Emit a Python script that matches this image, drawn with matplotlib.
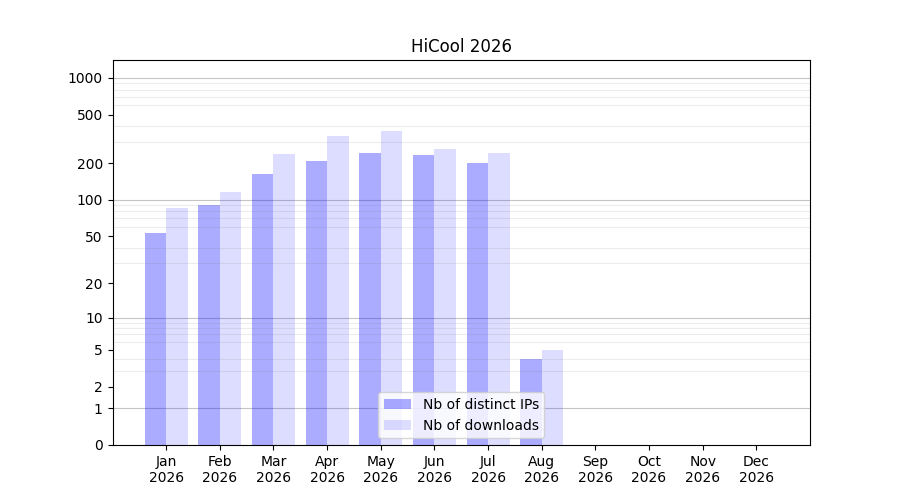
import numpy as np
import matplotlib
matplotlib.use("Agg")
import matplotlib.pyplot as plt
from matplotlib.ticker import FixedLocator, FixedFormatter, NullFormatter

# monthly stats for 2026
months = ['Jan', 'Feb', 'Mar', 'Apr', 'May', 'Jun', 'Jul', 'Aug', 'Sep', 'Oct', 'Nov', 'Dec']
year = 2026
distinct_ips = [53, 91, 164, 209, 243, 234, 201, 4, 0, 0, 0, 0]
downloads = [86, 116, 239, 335, 368, 262, 243, 5, 0, 0, 0, 0]

major_ticks = [0, 1, 2, 5, 10, 20, 50, 100, 200, 500, 1000]
decades = [1, 10, 100, 1000]
minor_ticks = [m * d for d in [1, 10, 100] for m in range(2, 10)]

x = np.arange(1, len(months) + 1)
width = 0.4

fig, ax = plt.subplots(figsize=(9, 5), dpi=100)

ax.set_yscale('function', functions=(lambda v: np.log10(1 + np.clip(v, 0, None)),
                                     lambda v: 10 ** v - 1))

ax.bar(x - width / 2, distinct_ips, width, color='blue', alpha=0.33, label='Nb of distinct IPs')
ax.bar(x + width / 2, downloads, width, color='blue', alpha=0.133, label='Nb of downloads')

ax.yaxis.set_major_locator(FixedLocator(major_ticks))
ax.yaxis.set_major_formatter(FixedFormatter([str(t) for t in major_ticks]))
ax.yaxis.set_minor_locator(FixedLocator(minor_ticks))
ax.yaxis.set_minor_formatter(NullFormatter())
ax.tick_params(axis='y', which='minor', length=0)
ax.grid(True, axis='y', which='minor', color='gray', alpha=0.15, linewidth=0.8)
for d in decades:
    ax.axhline(d, color='gray', alpha=0.45, linewidth=0.8, zorder=0.5)

ax.set_ylim(0, 1400)
ax.set_xlim(0, 13)
ax.set_xticks(x)
ax.set_xticklabels([f'{m}\n{year}' for m in months])

ax.set_title(f'HiCool {year}')
ax.legend(loc='lower center')

plt.savefig('out.png')
